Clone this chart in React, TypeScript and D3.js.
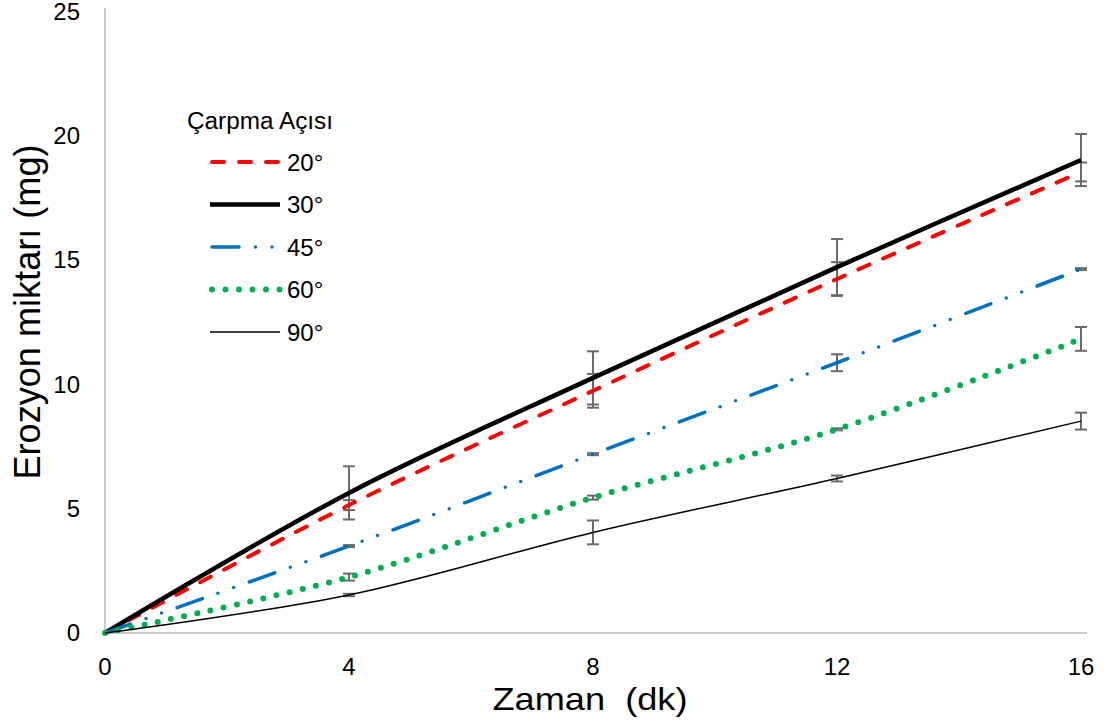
import React from "react";
import * as d3 from "d3";

const times = [0, 4, 8, 12, 16];
const v20 = [0, 5.15, 9.75, 14.25, 18.56];
const v30 = [0, 5.64, 10.27, 14.73, 19.04];
const v45 = [0, 3.5, 7.2, 10.88, 14.65];
const v60 = [0, 2.25, 5.45, 8.2, 11.84];
const v90 = [0, 1.53, 4.05, 6.22, 8.53];
const err20 = [0, 0.2, 0.68, 0.68, 0.38];
const err30 = [0, 1.07, 1.07, 1.13, 1.05];
const err45 = [0, 0.04, 0.04, 0.34, 0.04];
const err60 = [0, 0.14, 0.08, 0.04, 0.48];
const err90 = [0, 0.05, 0.48, 0.12, 0.34];
const seriesNames = ["20°", "30°", "45°", "60°", "90°"];
const xTicks = [0, 4, 8, 12, 16];
const yTicks = [0, 5, 10, 15, 20, 25];
const legendTitle = "Çarpma Açısı";
const xTitle = "Zaman  (dk)";
const yTitle = "Erozyon miktarı (mg)";

const styles = [
  { color: "#ff0000", width: 4, dash: "12 15", cap: "round" },
  { color: "#000000", width: 4.5, dash: undefined, cap: "butt" },
  { color: "#0070c0", width: 3.5, dash: "27 16.5 0 16.5 0 16.5", cap: "round" },
  { color: "#00b050", width: 6, dash: "0 13.5", cap: "round" },
  { color: "#000000", width: 1.5, dash: undefined, cap: "butt" },
];

export default function App() {
  const x = d3.scaleLinear().domain([0, 16]).range([105, 1081]);
  const y = d3.scaleLinear().domain([0, 25]).range([633, 12]);
  const values = [v20, v30, v45, v60, v90];
  const errs = [err20, err30, err45, err60, err90];
  const line = d3
    .line<number>()
    .x((_, i) => x(times[i]))
    .y((d) => y(d))
    .curve(d3.curveCatmullRom.alpha(0.5));
  const font = "'Liberation Sans', Arial, sans-serif";
  const errColor = "#6a6a6a";

  return (
    <svg
      width={1106}
      height={725}
      style={{ position: "absolute", left: 0, top: 0, background: "#fff" }}
      fontFamily={font}
    >
      <rect width={1106} height={725} fill="#fff" />
      {/* axes */}
      <line x1={x(0)} x2={x(0)} y1={y(25) - 4} y2={y(0)} stroke="#c8c8c8" strokeWidth={2} />
      <line x1={x(0)} x2={x(16) + 6} y1={y(0)} y2={y(0)} stroke="#c8c8c8" strokeWidth={2} />
      {yTicks.map((t) => (
        <text key={"y" + t} x={80} y={y(t) + 8} fontSize={24} textAnchor="end" fill="#000">
          {t}
        </text>
      ))}
      {xTicks.map((t) => (
        <text key={"x" + t} x={x(t)} y={675} fontSize={24} textAnchor="middle" fill="#000">
          {t}
        </text>
      ))}
      <text
        x={590}
        y={710}
        fontSize={32}
        textAnchor="middle"
        textLength={195}
        lengthAdjust="spacingAndGlyphs"
        style={{ whiteSpace: "pre" }}
      >
        {xTitle}
      </text>
      <text
        transform="translate(40,312) rotate(-90)"
        fontSize={36}
        textAnchor="middle"
        textLength={335}
        lengthAdjust="spacingAndGlyphs"
      >
        {yTitle}
      </text>
      {/* error bars */}
      {values.map((vals, si) =>
        vals.map((v, i) => {
          const e = errs[si][i];
          if (!e) return null;
          const cx = x(times[i]);
          const y1 = y(v + e);
          const y2 = y(v - e);
          return (
            <g key={`e${si}-${i}`} stroke={errColor} strokeWidth={2}>
              <line x1={cx} x2={cx} y1={y1} y2={y2} />
              <line x1={cx - 6} x2={cx + 6} y1={y1} y2={y1} />
              <line x1={cx - 6} x2={cx + 6} y1={y2} y2={y2} />
            </g>
          );
        })
      )}
      {/* lines */}
      {values.map((vals, si) => (
        <path
          key={"l" + si}
          d={line(vals) || ""}
          fill="none"
          stroke={styles[si].color}
          strokeWidth={styles[si].width}
          strokeDasharray={styles[si].dash}
          strokeLinecap={styles[si].cap as any}
        />
      ))}
      {/* legend */}
      <text x={187} y={129} fontSize={23} textLength={146} lengthAdjust="spacingAndGlyphs">
        {legendTitle}
      </text>
      {seriesNames.map((n, i) => {
        const ly = 162 + i * 42.5;
        const s = styles[i];
        return (
          <g key={"lg" + i}>
            <line
              x1={s.cap === "round" ? 212 : 210}
              x2={280}
              y1={ly}
              y2={ly}
              stroke={s.color}
              strokeWidth={s.width}
              strokeDasharray={s.dash}
              strokeLinecap={s.cap as any}
            />
            <text x={287} y={ly + 8.5} fontSize={24}>
              {n}
            </text>
          </g>
        );
      })}
    </svg>
  );
}
